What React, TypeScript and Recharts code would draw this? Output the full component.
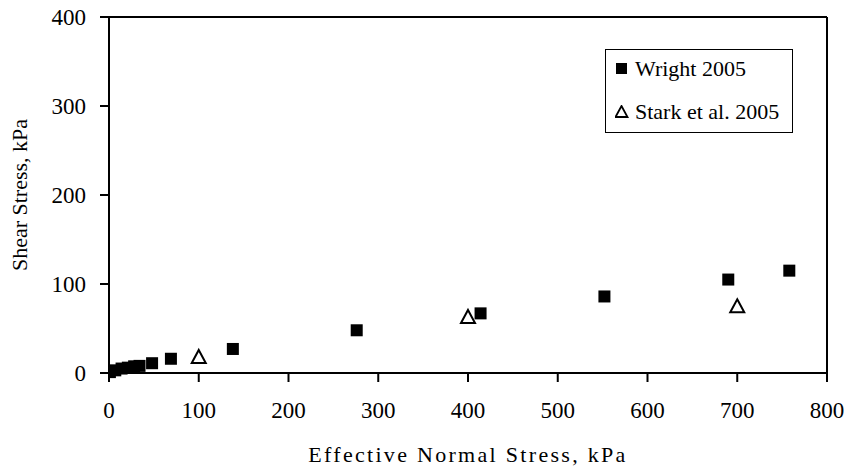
import { ScatterChart, Scatter, XAxis, YAxis, ReferenceLine } from 'recharts';

const wrightX = [1, 7, 14, 21, 28, 34, 48, 69, 138, 276, 414, 552, 690, 758];
const wrightY = [1, 3, 5, 6, 7.5, 8, 11, 16, 27, 48, 67, 86, 105, 115];
const starkX = [100, 400, 700];
const starkY = [18, 63, 75];
const xTicks = [0, 100, 200, 300, 400, 500, 600, 700, 800];
const yTicks = [0, 100, 200, 300, 400];

const wright = wrightX.map((x, i) => ({ x, y: wrightY[i] }));
const stark = starkX.map((x, i) => ({ x, y: starkY[i] }));

const font = 'Liberation Serif, serif';

const Square = (props: any) => {
  const { cx, cy } = props;
  return <rect x={cx - 6} y={cy - 6} width={12} height={12} fill="#000" />;
};

const Triangle = (props: any) => {
  const { cx, cy } = props;
  return (
    <path
      d={`M${cx},${cy - 7} L${cx + 7},${cy + 6} L${cx - 7},${cy + 6} Z`}
      fill="#fff"
      stroke="#000"
      strokeWidth={2}
    />
  );
};

// legend drawn as a plain box over the plot
const LegendBox = () => (
  <div
    style={{
      position: 'absolute',
      left: 605,
      top: 49,
      width: 186,
      height: 82,
      border: '1.5px solid #000',
      background: '#fff',
      fontFamily: font,
      fontSize: 22,
      color: '#000',
      whiteSpace: 'nowrap',
    }}
  >
    <div style={{ position: 'absolute', left: 9, top: 6, height: 26, display: 'flex', alignItems: 'center' }}>
      <svg width={16} height={14}>
        <rect x={1} y={1} width={11} height={11} fill="#000" />
      </svg>
      <span style={{ marginLeft: 4 }}>Wright 2005</span>
    </div>
    <div style={{ position: 'absolute', left: 9, top: 49, height: 26, display: 'flex', alignItems: 'center' }}>
      <svg width={16} height={14}>
        <path d="M6.5,1 L12.5,12 L0.5,12 Z" fill="#fff" stroke="#000" strokeWidth={1.8} />
      </svg>
      <span style={{ marginLeft: 4 }}>Stark et al. 2005</span>
    </div>
  </div>
);

export default function App() {
  return (
    <div
      style={{
        position: 'absolute',
        left: 0,
        top: 0,
        width: 849,
        height: 475,
        background: '#fff',
        fontFamily: font,
      }}
    >
      <ScatterChart width={849} height={475} margin={{ top: 17, right: 22, bottom: 42, left: 49 }}>
        <XAxis
          type="number"
          dataKey="x"
          domain={[0, 800]}
          ticks={xTicks}
          allowDataOverflow
          height={60}
          stroke="#000"
          strokeWidth={2}
          tickSize={9}
          tickMargin={20}
          tick={{ fill: '#000', fontSize: 23, fontFamily: font }}
          label={{
            value: 'Effective Normal Stress, kPa',
            position: 'insideBottom',
            offset: -29,
            fill: '#000',
            fontSize: 22,
            fontFamily: font,
            letterSpacing: 2.3,
          }}
        />
        <YAxis
          type="number"
          dataKey="y"
          domain={[0, 400]}
          ticks={yTicks}
          width={60}
          stroke="#000"
          strokeWidth={2}
          tickSize={9}
          tickMargin={14}
          tick={{ fill: '#000', fontSize: 23, fontFamily: font }}
          label={{
            value: 'Shear Stress, kPa',
            angle: -90,
            position: 'insideLeft',
            offset: -30,
            style: { textAnchor: 'middle' },
            fill: '#000',
            fontSize: 22,
            fontFamily: font,
          }}
        />
        <ReferenceLine y={400} stroke="#000" strokeWidth={2} />
        <ReferenceLine x={800} stroke="#000" strokeWidth={2} />
        <Scatter name="Wright 2005" data={wright} shape={<Square />} isAnimationActive={false} />
        <Scatter name="Stark et al. 2005" data={stark} shape={<Triangle />} isAnimationActive={false} />
      </ScatterChart>
      <LegendBox />
    </div>
  );
}
